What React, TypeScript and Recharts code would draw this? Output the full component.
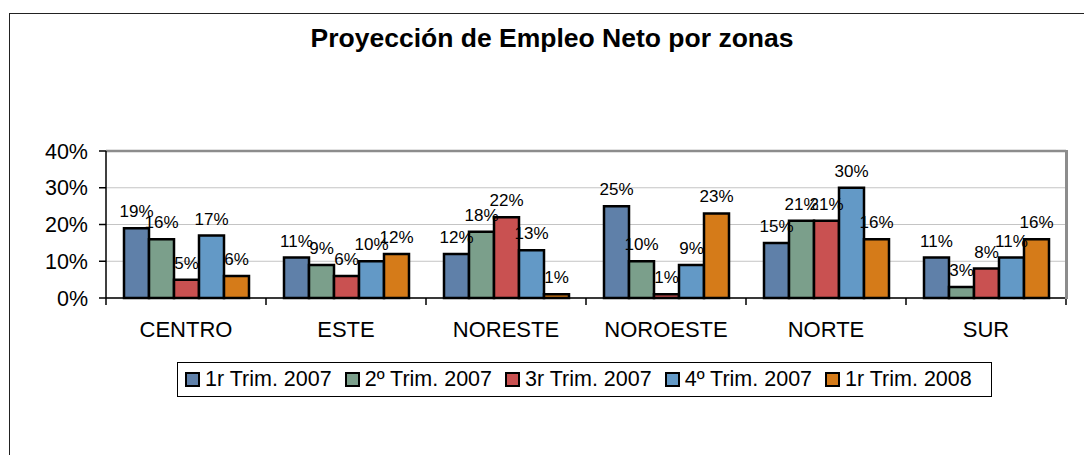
import React from 'react';
import {
  BarChart,
  Bar,
  XAxis,
  YAxis,
  CartesianGrid,
  ReferenceLine,
  LabelList,
} from 'recharts';

const categories = ['CENTRO', 'ESTE', 'NORESTE', 'NOROESTE', 'NORTE', 'SUR'];
const trim1_2007 = [19, 11, 12, 25, 15, 11];
const trim2_2007 = [16, 9, 18, 10, 21, 3];
const trim3_2007 = [5, 6, 22, 1, 21, 8];
const trim4_2007 = [17, 10, 13, 9, 30, 11];
const trim1_2008 = [6, 12, 1, 23, 16, 16];
const seriesNames = ['1r Trim. 2007', '2º Trim. 2007', '3r Trim. 2007', '4º Trim. 2007', '1r Trim. 2008'];
const seriesColors = ['#5f80a9', '#7b9f8b', '#c95151', '#6399c6', '#d57b19'];
const yTicks = [0, 10, 20, 30, 40];

const allSeries = [trim1_2007, trim2_2007, trim3_2007, trim4_2007, trim1_2008];

const data = categories.map((zona, i) => {
  const row: Record<string, string | number> = { zona };
  allSeries.forEach((s, k) => {
    row[`s${k}`] = s[i];
  });
  return row;
});

const W = 1084;
const H = 455;
const PLOT_LEFT = 106;
const PLOT_RIGHT = 1066;
const PLOT_TOP = 151;
const PLOT_BOTTOM = 298;
const BAND = (PLOT_RIGHT - PLOT_LEFT) / categories.length;
const FONT = '"Liberation Sans", Arial, sans-serif';

function CategoryTick(props: any) {
  const { x, y, payload, index } = props;
  const half = BAND / 2;
  return (
    <g>
      <line x1={x - half} y1={y} x2={x - half} y2={y + 7} stroke="#000" strokeWidth={1.5} />
      {index === categories.length - 1 && (
        <line x1={x + half} y1={y} x2={x + half} y2={y + 7} stroke="#000" strokeWidth={1.5} />
      )}
      <text x={x} y={y + 39} textAnchor="middle" fontSize={22} fill="#000" fontFamily={FONT}>
        {payload.value}
      </text>
    </g>
  );
}

export default function App() {
  return (
    <div
      style={{
        position: 'absolute',
        left: 0,
        top: 0,
        width: W,
        height: H,
        overflow: 'hidden',
        background: '#fff',
        fontFamily: FONT,
      }}
    >
      <div
        style={{
          position: 'absolute',
          left: 9,
          top: 13,
          width: W + 20,
          height: H + 20,
          borderLeft: '1.5px solid #222',
          borderTop: '1.5px solid #222',
        }}
      />
      <div
        style={{
          position: 'absolute',
          left: 9,
          top: 25,
          width: W + 2,
          textAlign: 'center',
          fontSize: 26.5,
          lineHeight: '26.5px',
          fontWeight: 'bold',
          color: '#000',
        }}
      >
        Proyección de Empleo Neto por zonas
      </div>

      <div style={{ position: 'absolute', left: 0, top: 0 }}>
        <BarChart
          width={W}
          height={H}
          data={data}
          margin={{ top: PLOT_TOP, right: W - PLOT_RIGHT, left: 0, bottom: 107 }}
          barCategoryGap="11.25%"
          barGap={0}
        >
          <CartesianGrid horizontal vertical={false} stroke="#c4c4c4" strokeWidth={1} />
          <XAxis
            dataKey="zona"
            height={50}
            axisLine={{ stroke: '#000', strokeWidth: 1.5 }}
            tickLine={false}
            tickSize={0}
            tickMargin={0}
            interval={0}
            tick={(p: any) => <CategoryTick {...p} />}
          />
          <YAxis
            width={PLOT_LEFT}
            domain={[0, 40]}
            ticks={yTicks}
            tickFormatter={(v) => `${v}%`}
            axisLine={{ stroke: '#000', strokeWidth: 1.5 }}
            tickLine={{ stroke: '#000', strokeWidth: 1.5 }}
            tickSize={7}
            tickMargin={11}
            tick={{ fontSize: 21.5, fill: '#000', fontFamily: FONT }}
          />
          <ReferenceLine y={40} stroke="#8c8c8c" strokeWidth={2.5} />
          {seriesNames.map((name, k) => (
            <Bar
              key={name}
              dataKey={`s${k}`}
              name={name}
              fill={seriesColors[k]}
              stroke="#000"
              strokeWidth={2.5}
              isAnimationActive={false}
            >
              <LabelList
                dataKey={`s${k}`}
                position="top"
                offset={11}
                formatter={(v: any) => `${v}%`}
                style={{ fontSize: 17, fill: '#000', fontFamily: FONT }}
              />
            </Bar>
          ))}
        </BarChart>
      </div>

      {/* right edge of the plot frame */}
      <div
        style={{
          position: 'absolute',
          left: PLOT_RIGHT - 1,
          top: PLOT_TOP - 1,
          width: 2.5,
          height: PLOT_BOTTOM - PLOT_TOP + 2,
          background: '#8c8c8c',
        }}
      />

      <div
        style={{
          position: 'absolute',
          left: 177,
          top: 362,
          width: 992 - 177,
          height: 35,
          boxSizing: 'border-box',
          border: '1.5px solid #000',
          display: 'flex',
          alignItems: 'center',
          paddingLeft: 7,
          gap: 13,
          fontSize: 21.5,
          color: '#000',
          whiteSpace: 'nowrap',
        }}
      >
        {seriesNames.map((name, k) => (
          <div key={name} style={{ display: 'flex', alignItems: 'center', gap: 5 }}>
            <div
              style={{
                width: 15,
                height: 15,
                boxSizing: 'border-box',
                border: '2px solid #000',
                background: seriesColors[k],
              }}
            />
            <span>{name}</span>
          </div>
        ))}
      </div>
    </div>
  );
}
